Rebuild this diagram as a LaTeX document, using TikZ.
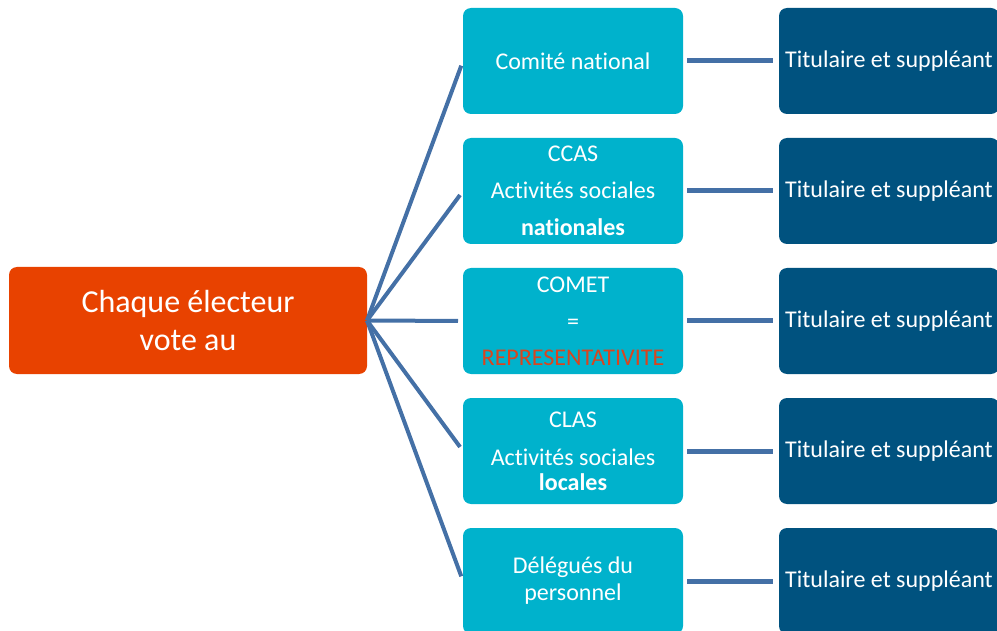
\documentclass[tikz,border=0pt]{standalone}
\usepackage{fontspec}
\setmainfont{Carlito}[Ligatures=NoCommon]
\usetikzlibrary{positioning}

\definecolor{orangevote}{HTML}{E84200}
\definecolor{turquoise}{HTML}{00B2CC}
\definecolor{bleufonce}{HTML}{00527F}
\definecolor{trait}{HTML}{4470A6}
\definecolor{rougetexte}{HTML}{D9451F}

\begin{document}
\begin{tikzpicture}[x=0.75pt,y=-0.75pt,node distance=18pt and 72pt,outer sep=0pt,
	electeur/.style={fill=orangevote,rounded corners=6pt,text=white,align=center,
		minimum width=268.5pt,minimum height=80.25pt,font=\fontsize{24}{28.5}\selectfont},
	instance/.style={fill=turquoise,rounded corners=6pt,text=white,align=center,
		minimum width=165pt,minimum height=79.5pt,font=\fontsize{18}{20.25}\selectfont},
	mandat/.style={fill=bleufonce,rounded corners=6pt,text=white,align=center,
		minimum width=165pt,minimum height=79.5pt,font=\fontsize{18}{20.25}\selectfont},
	lien/.style={draw=trait,line width=3pt}]

	\clip (0,0) rectangle (997,631);

	% electeur
	\node[electeur] (vote) at (188,320.5) {Chaque électeur\\vote au};

	% instances
	\node[instance] (cn) at (573,61) {Comité national};
	\node[instance,below=of cn] (ccas) {CCAS\\[7.5pt]Activités sociales\\[7.5pt]\textbf{nationales}};
	\node[instance,below=of ccas] (comet) {COMET\\[7.5pt]=\\[6.5pt]\textcolor{rougetexte}{REPRESENTATIVITE}};
	\node[instance,below=of comet] (clas) {CLAS\\[8.5pt]Activités sociales\\[-1.5pt]\textbf{locales}};
	\node[instance,below=of clas] (dp) {Délégués du\\personnel};

	% titulaires
	\node[mandat,right=of cn] (tcn) {Titulaire et suppléant};
	\node[mandat,right=of ccas] (tccas) {Titulaire et suppléant};
	\node[mandat,right=of comet] (tcomet) {Titulaire et suppléant};
	\node[mandat,right=of clas] (tclas) {Titulaire et suppléant};
	\node[mandat,right=of dp] (tdp) {Titulaire et suppléant};

	% liens
	\draw[lien,shorten >=3.75pt] (vote.east) -- (cn.west);
	\draw[lien,shorten >=3.75pt] (vote.east) -- (ccas.west);
	\draw[lien,shorten >=3.75pt] (vote.east) -- (comet.west);
	\draw[lien,shorten >=3.75pt] (vote.east) -- (clas.west);
	\draw[lien,shorten >=3.75pt] (vote.east) -- (dp.west);

	\draw[lien,line width=3.75pt,shorten <=3pt,shorten >=4.5pt] (cn) -- (tcn);
	\draw[lien,line width=3.75pt,shorten <=3pt,shorten >=4.5pt] (ccas) -- (tccas);
	\draw[lien,line width=3.75pt,shorten <=3pt,shorten >=4.5pt] (comet) -- (tcomet);
	\draw[lien,line width=3.75pt,shorten <=3pt,shorten >=4.5pt] (clas) -- (tclas);
	\draw[lien,line width=3.75pt,shorten <=3pt,shorten >=4.5pt] (dp) -- (tdp);

\end{tikzpicture}
\end{document}
